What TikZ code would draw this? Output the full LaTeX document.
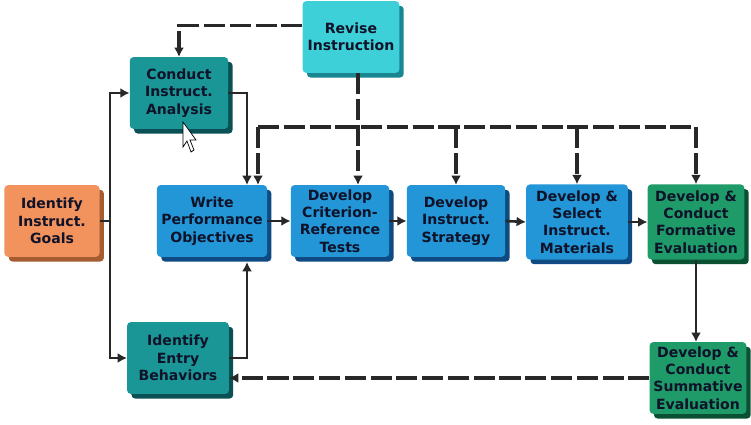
\documentclass[tikz,border=0pt]{standalone}
\usepackage{fontspec}
\setmainfont{DejaVu Sans}
\usepackage{tikz}
\usetikzlibrary{arrows.meta, shadows, positioning}
\definecolor{orangebox}{RGB}{242, 146, 92}
\definecolor{orangeshade}{RGB}{165, 92, 48}
\definecolor{tealbox}{RGB}{26, 150, 150}
\definecolor{tealshade}{RGB}{10, 80, 85}
\definecolor{cyanbox}{RGB}{62, 208, 216}
\definecolor{cyanshade}{RGB}{25, 135, 145}
\definecolor{bluebox}{RGB}{34, 150, 215}
\definecolor{blueshade}{RGB}{15, 75, 130}
\definecolor{greenbox}{RGB}{30, 155, 105}
\definecolor{greenshade}{RGB}{10, 80, 50}
\definecolor{ink}{RGB}{15, 18, 40}
\definecolor{wire}{RGB}{40, 40, 40}
\tikzset{
    stepbox/.style={rectangle, rounded corners=3pt, align=center, text=ink, inner sep=1pt,
        font=\bfseries\fontsize{12}{14.8}\selectfont, minimum width=2.95cm, minimum height=2.15cm},
    orangestep/.style={stepbox, fill=orangebox, drop shadow={shadow xshift=0.13cm, shadow yshift=-0.14cm, fill=orangeshade, opacity=1}},
    tealstep/.style={stepbox, fill=tealbox, drop shadow={shadow xshift=0.13cm, shadow yshift=-0.14cm, fill=tealshade, opacity=1}},
    cyanstep/.style={stepbox, fill=cyanbox, drop shadow={shadow xshift=0.13cm, shadow yshift=-0.14cm, fill=cyanshade, opacity=1}},
    bluestep/.style={stepbox, fill=bluebox, drop shadow={shadow xshift=0.13cm, shadow yshift=-0.14cm, fill=blueshade, opacity=1}},
    greenstep/.style={stepbox, fill=greenbox, drop shadow={shadow xshift=0.13cm, shadow yshift=-0.14cm, fill=greenshade, opacity=1}},
    conn/.style={wire, line width=2.2pt},
    feed/.style={conn, -{Latex[length=2.8mm, width=3mm]}},
    loopline/.style={wire, line width=2.8pt, dash pattern=on 18pt off 4pt},
    loopback/.style={loopline, -{Latex[length=2.8mm, width=3mm]}},
}
\begin{document}
\begin{tikzpicture}[x=0.03cm, y=-0.03cm]
    \useasboundingbox (0,0) rectangle (751,425);

    \node[cyanstep, minimum width=2.9cm] (revise) at (351,37) {Revise\\Instruction};
    \node[tealstep] (analysis) at (179,93) {Conduct\\Instruct.\\Analysis};
    \node[orangestep, minimum width=2.85cm] (goals) at (52,221) {Identify\\Instruct.\\Goals};
    \node[bluestep, minimum width=3.3cm] (objectives) at (212,221) {Write\\Performance\\Objectives};
    \node[bluestep] (tests) at (340,221) {Develop\\Criterion-\\Reference\\Tests};
    \node[bluestep] (strategy) at (456,221) {Develop\\Instruct.\\Strategy};
    \node[bluestep, minimum width=3.05cm, minimum height=2.25cm] (materials) at (577,222) {Develop \&\\Select\\Instruct.\\Materials};
    \node[greenstep, minimum width=2.9cm, minimum height=2.25cm] (formative) at (696,222) {Develop \&\\Conduct\\Formative\\Evaluation};
    \node[tealstep, minimum width=3.05cm] (entry) at (178,358) {Identify\\Entry\\Behaviors};
    \node[greenstep, minimum width=2.9cm] (summative) at (698,378) {Develop \&\\Conduct\\Summative\\Evaluation};

    % pointer over the analysis box
    \draw[fill=white, draw=black, line width=0.6pt, shift={(183,122)}]
        (0,0) -- (0,25) -- (4,19) -- (8,30) -- (11,28) -- (7,18) -- (13,18) -- cycle;

    % solid flow
    \coordinate (spine) at (110,221);
    \coordinate (objin) at (247,185);
    \coordinate (objout) at (247,262);
    \draw[conn] (goals.east) -- (spine);
    \draw[feed] (spine) |- (analysis.west);
    \draw[feed] (spine) |- (entry.west);
    \draw[feed] (analysis.east) -| (objin);
    \draw[feed] (entry.east) -| (objout);
    \draw[feed] (objectives.east) -- (tests.west);
    \draw[feed] (tests.east) -- (strategy.west);
    \draw[feed] (strategy.east) -- (materials.west);
    \draw[feed] (materials.east) -- (formative.west);
    \draw[feed] (formative.south) -- (formative.south |- summative.north);

    % dashed revision loops
    \coordinate (revdrop) at ([xshift=0.21cm]revise.south);
    \coordinate (busL) at (258,127);
    \coordinate (busR) at (696,127);
    \draw[loopback] (revise.167) -| (analysis.north);
    \draw[loopback] (revdrop) -- (revdrop |- tests.north);
    \draw[loopline] (busL) -- (busR);
    \draw[loopback] (busL) -- (busL |- objectives.north);
    \draw[loopback] (strategy.north |- busL) -- (strategy.north);
    \draw[loopback] (materials.north |- busL) -- (materials.north);
    \draw[loopback] (busR) -- (formative.north);
    \draw[loopback] (summative.west) -- (entry.east |- summative.west);
\end{tikzpicture}
\end{document}
